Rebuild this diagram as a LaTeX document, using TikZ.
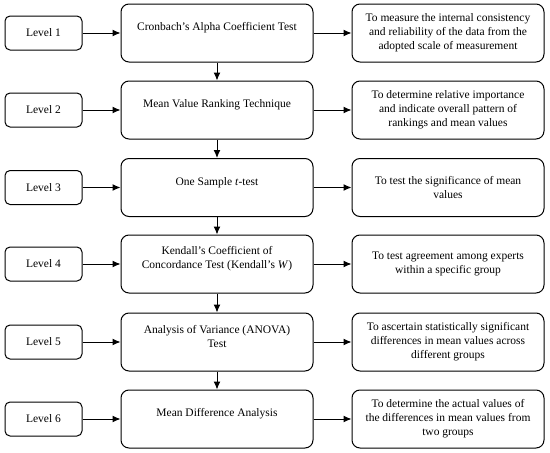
\documentclass[tikz,border=0pt]{standalone}
\usepackage{fontspec}
\setmainfont{Liberation Serif}
\usetikzlibrary{arrows.meta}
\begin{document}
\begin{tikzpicture}[x=1pt,y=-1pt,
  txt/.style={font=\fontsize{11.5}{14}\selectfont, align=center, inner sep=0pt},
  bigbox/.style={draw, line width=1pt, rounded corners=8pt, minimum width=192pt, minimum height=58pt, inner sep=0pt, fill=white},
  lvlbox/.style={draw, line width=1pt, rounded corners=5pt, minimum width=77pt, minimum height=34pt, inner sep=0pt, txt},
  arr/.style={line width=1pt, -{Latex[length=8pt,width=7pt]}}]
\useasboundingbox (0,0) rectangle (550,453);
% rows
\foreach \i/\y in {1/33,2/110,3/187.5,4/264,5/342,6/419}{
  \node[lvlbox] (l\i) at (43.5,\y) {Level \i};
  \node[bigbox] (c\i) at (217,\y) {};
  \node[bigbox] (r\i) at (448,\y) {};
  \draw[arr] (l\i) -- (c\i);
  \draw[arr] (c\i) -- (r\i);
}
\node[txt] (ct1) at ([yshift=5pt]c1.center) {Cronbach’s Alpha Coefficient Test};
\node[txt] (ct2) at ([yshift=5pt]c2.center) {Mean Value Ranking Technique};
\node[txt] (ct3) at ([yshift=5pt]c3.center) {One Sample \textit{t}-test};
\node[txt] (ct4) at ([yshift=5pt]c4.center) {Kendall’s Coefficient of\\Concordance Test (Kendall’s \textit{W})};
\node[txt] (ct5) at ([yshift=5pt]c5.center) {Analysis of Variance (ANOVA)\\Test};
\node[txt] (ct6) at ([yshift=5pt]c6.center) {Mean Difference Analysis};
\node[txt] (rt1) at (r1.center) {To measure the internal consistency\\and reliability of the data from the\\adopted scale of measurement};
\node[txt] (rt2) at (r2.center) {To determine relative importance\\and indicate overall pattern of\\rankings and mean values};
\node[txt] (rt3) at (r3.center) {To test the significance of mean\\values};
\node[txt] (rt4) at (r4.center) {To test agreement among experts\\within a specific group};
\node[txt] (rt5) at (r5.center) {To ascertain statistically significant\\differences in mean values across\\different groups};
\node[txt] (rt6) at (r6.center) {To determine the actual values of\\the differences in mean values from\\two groups};
\foreach \a/\b in {1/2,2/3,3/4,4/5,5/6}{
  \draw[arr] (c\a) -- (c\b);
}
\end{tikzpicture}
\end{document}
